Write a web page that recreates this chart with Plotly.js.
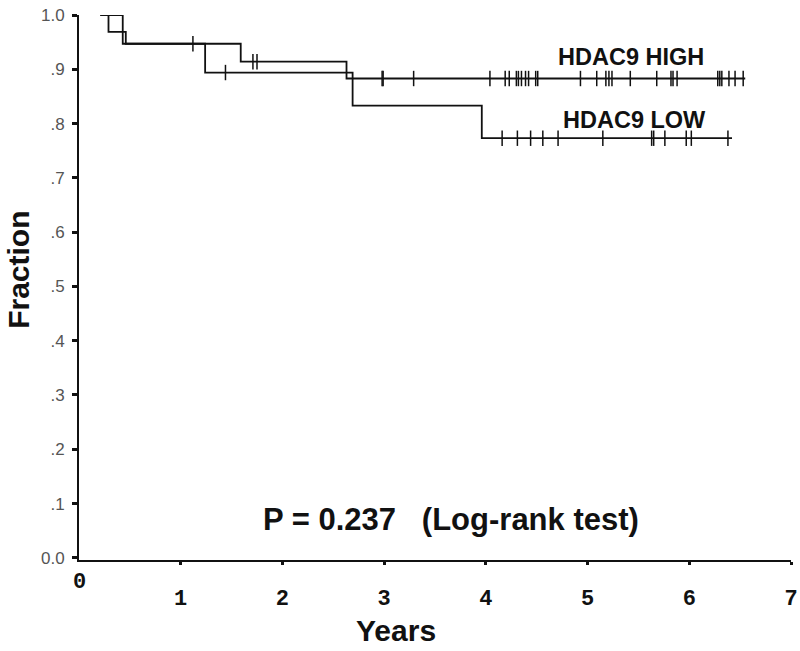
<!DOCTYPE html>
<html>
<head>
<meta charset="utf-8">
<script src="https://cdn.plot.ly/plotly-3.0.1.min.js"></script>
<style>html,body{margin:0;padding:0;background:#fff;}#chart{width:800px;height:651px;}</style>
</head>
<body>
<div id="chart"></div>
<script>
// Kaplan-Meier step data (event times and survival after each step)
const highTimes = [0.21, 0.43, 1.59, 2.63];
const highSurv  = [1.0, 0.947, 0.914, 0.883];
const highEnd   = 6.55;
const highCensor = [1.12, 1.71, 1.75, 2.98, 2.99, 3.29, 4.04, 4.19, 4.23, 4.30, 4.32, 4.35, 4.39, 4.42, 4.49, 4.51,
                    4.93, 5.09, 5.18, 5.21, 5.24, 5.42, 5.68, 5.82, 5.84, 5.88, 6.28, 6.30, 6.32, 6.39, 6.45, 6.53];

const lowTimes = [0.21, 0.29, 0.46, 1.24, 2.69, 3.96];
const lowSurv  = [1.0, 0.969, 0.947, 0.894, 0.833, 0.773];
const lowEnd   = 6.42;
const lowCensor = [1.44, 4.16, 4.31, 4.44, 4.56, 4.71, 5.15, 5.63, 5.65, 5.76, 5.97, 6.02, 6.38];

const xTickVals = [1, 2, 3, 4, 5, 6, 7];
const xTickText = ["1", "2", "3", "4", "5", "6", "7"];
const yTickVals = [0, 0.1, 0.2, 0.3, 0.4, 0.5, 0.6, 0.7, 0.8, 0.9, 1.0];
const yTickText = ["0.0", ".1", ".2", ".3", ".4", ".5", ".6", ".7", ".8", ".9", "1.0"];

function survAt(times, surv, t) {
  let s = surv[0];
  for (let i = 0; i < times.length; i++) { if (times[i] <= t) s = surv[i]; }
  return s;
}

function stepTrace(times, surv, end) {
  return {
    x: times.concat([end]),
    y: surv.concat([surv[surv.length - 1]]),
    mode: 'lines', type: 'scatter',
    line: {shape: 'hv', color: '#111', width: 1.8},
    hoverinfo: 'skip', showlegend: false
  };
}
function censorTrace(times, surv, cens) {
  return {
    x: cens, y: cens.map(t => survAt(times, surv, t)),
    mode: 'markers', type: 'scatter', cliponaxis: false,
    marker: {symbol: 'line-ns', size: 11, line: {color: '#111', width: 1.5}},
    hoverinfo: 'skip', showlegend: false
  };
}

const data = [
  stepTrace(highTimes, highSurv, highEnd),
  stepTrace(lowTimes, lowSurv, lowEnd),
  censorTrace(highTimes, highSurv, highCensor),
  censorTrace(lowTimes, lowSurv, lowCensor)
];

const layout = {
  width: 800, height: 651,
  margin: {l: 79, r: 9, t: 15, b: 91},
  paper_bgcolor: '#fff', plot_bgcolor: '#fff',
  xaxis: {
    range: [0, 7], showgrid: false, zeroline: false,
    showline: true, linecolor: '#111', linewidth: 2,
    ticks: 'outside', ticklen: 3, tickwidth: 3, tickcolor: '#111',
    tickvals: xTickVals, ticktext: xTickText.map(s => '<b>' + s + '</b>'),
    ticklabelstandoff: 14,
    tickfont: {family: 'Liberation Mono', size: 22, color: '#111'}
  },
  yaxis: {
    range: [-0.004, 1.0], showgrid: false, zeroline: false,
    showline: true, linecolor: '#111', linewidth: 2,
    ticks: 'outside', ticklen: 5, tickwidth: 3, tickcolor: '#111',
    tickvals: yTickVals, ticktext: yTickText,
    ticklabelstandoff: 4,
    tickfont: {family: 'Liberation Sans', size: 17, color: '#555'}
  },
  annotations: [
    {x: 0, y: -0.042, xref: 'x', yref: 'paper', text: '<b>0</b>', showarrow: false,
     xanchor: 'center', yanchor: 'middle', font: {family: 'Liberation Mono', size: 22, color: '#111'}},
    {x: -0.086, y: 0.532, xref: 'paper', yref: 'paper', text: '<b>Fraction</b>', textangle: -90, showarrow: false,
     xanchor: 'center', yanchor: 'middle', font: {family: 'Liberation Sans', size: 30, color: '#111'}},
    {x: 0.445, y: -0.130, xref: 'paper', yref: 'paper', text: '<b>Years</b>', showarrow: false,
     xanchor: 'center', yanchor: 'middle', font: {family: 'Liberation Sans', size: 30, color: '#111'}},
    {x: 4.69, y: 0.923, xref: 'x', yref: 'y', text: '<b>HDAC9 HIGH</b>', showarrow: false,
     xanchor: 'left', yanchor: 'middle', font: {family: 'Liberation Sans', size: 23.5, color: '#111'}},
    {x: 4.74, y: 0.807, xref: 'x', yref: 'y', text: '<b>HDAC9 LOW</b>', showarrow: false,
     xanchor: 'left', yanchor: 'middle', font: {family: 'Liberation Sans', size: 23.5, color: '#111'}},
    {x: 3.66, y: 0.07, xref: 'x', yref: 'y', text: '<b>P = 0.237&nbsp;&nbsp;&nbsp;(Log-rank test)</b>', showarrow: false,
     xanchor: 'center', yanchor: 'middle', font: {family: 'Liberation Sans', size: 31, color: '#111'}}
  ]
};

Plotly.newPlot('chart', data, layout, {displayModeBar: false, staticPlot: true});
</script>
</body>
</html>
